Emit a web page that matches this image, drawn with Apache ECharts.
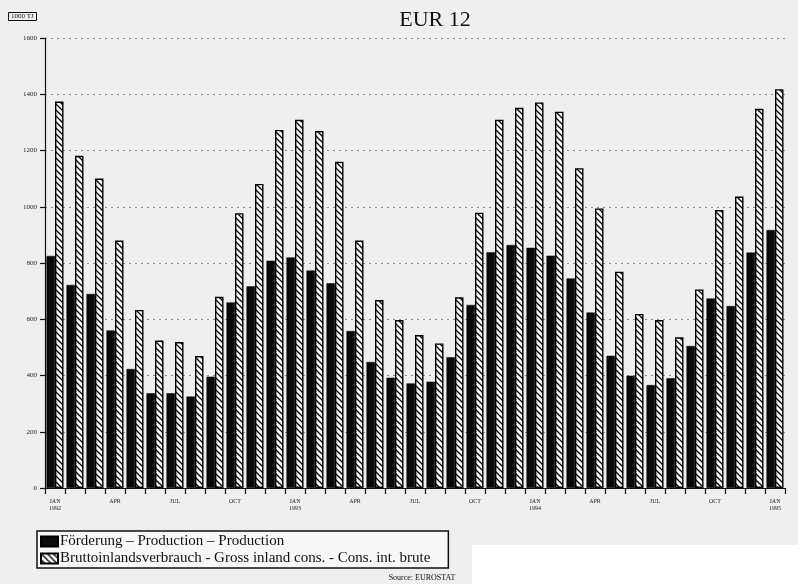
<!DOCTYPE html>
<html>
<head>
<meta charset="utf-8">
<script src="https://cdn.jsdelivr.net/npm/echarts@6/dist/echarts.min.js"></script>
<style>
html,body{margin:0;padding:0;background:#efefef;}
#chart{width:805px;height:584px;}
</style>
</head>
<body>
<div id="chart"></div>
<script>
const months = [
  "JAN\n1992","FEB","MAR","APR","MAY","JUN","JUL","AUG","SEP","OCT","NOV","DEC",
  "JAN\n1993","FEB","MAR","APR","MAY","JUN","JUL","AUG","SEP","OCT","NOV","DEC",
  "JAN\n1994","FEB","MAR","APR","MAY","JUN","JUL","AUG","SEP","OCT","NOV","DEC",
  "JAN\n1995"
];
const production = [
  825, 722, 690, 560, 423, 337, 337, 325, 396, 660, 717, 808,
  820, 773, 728, 558, 448, 392, 372, 378, 465, 651, 838, 864,
  854, 826, 745, 624, 470, 399, 366, 390, 505, 674, 647, 837,
  917
];
const grossInland = [
  1374, 1181, 1100, 880, 633, 524, 519, 469, 680, 977, 1081, 1273,
  1309, 1269, 1160, 880, 668, 597, 544, 514, 678, 979, 1309, 1352,
  1371, 1338, 1137, 994, 769, 619, 597, 536, 706, 988, 1036, 1348,
  1418
];
const seriesNames = [
  "Förderung – Production – Production",
  "Bruttoinlandsverbrauch - Gross inland cons. - Cons. int. brute"
];
const yTicks = { min: 0, max: 1600, interval: 200 };

// hatch pattern
const pc = document.createElement('canvas');
pc.width = 6; pc.height = 6;
const g = pc.getContext('2d');
g.fillStyle = '#ffffff'; g.fillRect(0,0,6,6);
g.strokeStyle = '#000'; g.lineWidth = 1.3;
g.beginPath();
g.moveTo(-1,-1); g.lineTo(7,7);
g.moveTo(-4,2); g.lineTo(4,10);
g.moveTo(2,-4); g.lineTo(10,4);
g.stroke();
const hatch = { image: pc, repeat: 'repeat' };

const serif = '"Liberation Serif","DejaVu Serif",serif';
const chart = echarts.init(document.getElementById('chart'));
chart.setOption({
  backgroundColor: '#efefef',
  animation: false,
  graphic: [
    { type: 'rect', shape: { x: 472, y: 545, width: 333, height: 39 }, style: { fill: '#ffffff' }, z: -10 },
    { type: 'rect', shape: { x: 798, y: 0, width: 7, height: 584 }, style: { fill: '#ffffff' }, z: -10 }
  ],
  title: [
    { text: 'EUR 12', left: 430, top: 4, textAlign: 'center',
      textStyle: { fontFamily: serif, fontSize: 22, fontWeight: 'normal', color: '#111' } },
    { text: '1000 TJ', left: 8, top: 12, padding: [1, 3], borderColor: '#111', borderWidth: 1,
      textStyle: { fontFamily: serif, fontSize: 7, fontWeight: 'normal', color: '#111' } },
    { text: 'Source: EUROSTAT', left: 422, top: 574, textAlign: 'center', padding: 0,
      textStyle: { fontFamily: serif, fontSize: 8, fontWeight: 'normal', color: '#111' } }
  ],
  legend: {
    orient: 'vertical', left: 37, top: 531,
    icon: 'rect',
    itemWidth: 17, itemHeight: 10, itemGap: 2,
    padding: [3, 18, 2, 3],
    borderColor: '#111', borderWidth: 1.5,
    backgroundColor: '#f8f8f8',
    textStyle: { fontFamily: serif, fontSize: 15, color: '#111', padding: [0, 0, 0, -3] },
    data: seriesNames
  },
  grid: { left: 45, top: 38, width: 740, bottom: 96 },
  xAxis: {
    type: 'category', data: months,
    axisLine: { lineStyle: { color: '#111', width: 1.2 } },
    axisTick: { show: true, interval: 0, length: 6, lineStyle: { color: '#111', width: 1.2 } },
    axisLabel: { interval: 2, fontFamily: serif, fontSize: 6, color: '#222', lineHeight: 7, margin: 10 }
  },
  yAxis: {
    type: 'value', min: yTicks.min, max: yTicks.max, interval: yTicks.interval,
    axisLine: { show: true, lineStyle: { color: '#111', width: 1.2 } },
    axisTick: { show: true, length: 5, lineStyle: { color: '#111', width: 1.2 } },
    axisLabel: { fontFamily: serif, fontSize: 7, color: '#222', margin: 8, formatter: v => String(v) },
    splitLine: { show: true, lineStyle: { color: '#8a8a8a', type: [2, 4], width: 1 } }
  },
  series: [
    { name: seriesNames[0], type: 'bar', data: production, barWidth: 8.5, barGap: '0%',
      itemStyle: { color: '#0a0a0a', borderColor: '#000', borderWidth: 0.5 } },
    { name: seriesNames[1], type: 'bar', data: grossInland, barWidth: 8.5,
      itemStyle: { color: hatch, borderColor: '#000', borderWidth: 1.4 } }
  ]
});
</script>
</body>
</html>
